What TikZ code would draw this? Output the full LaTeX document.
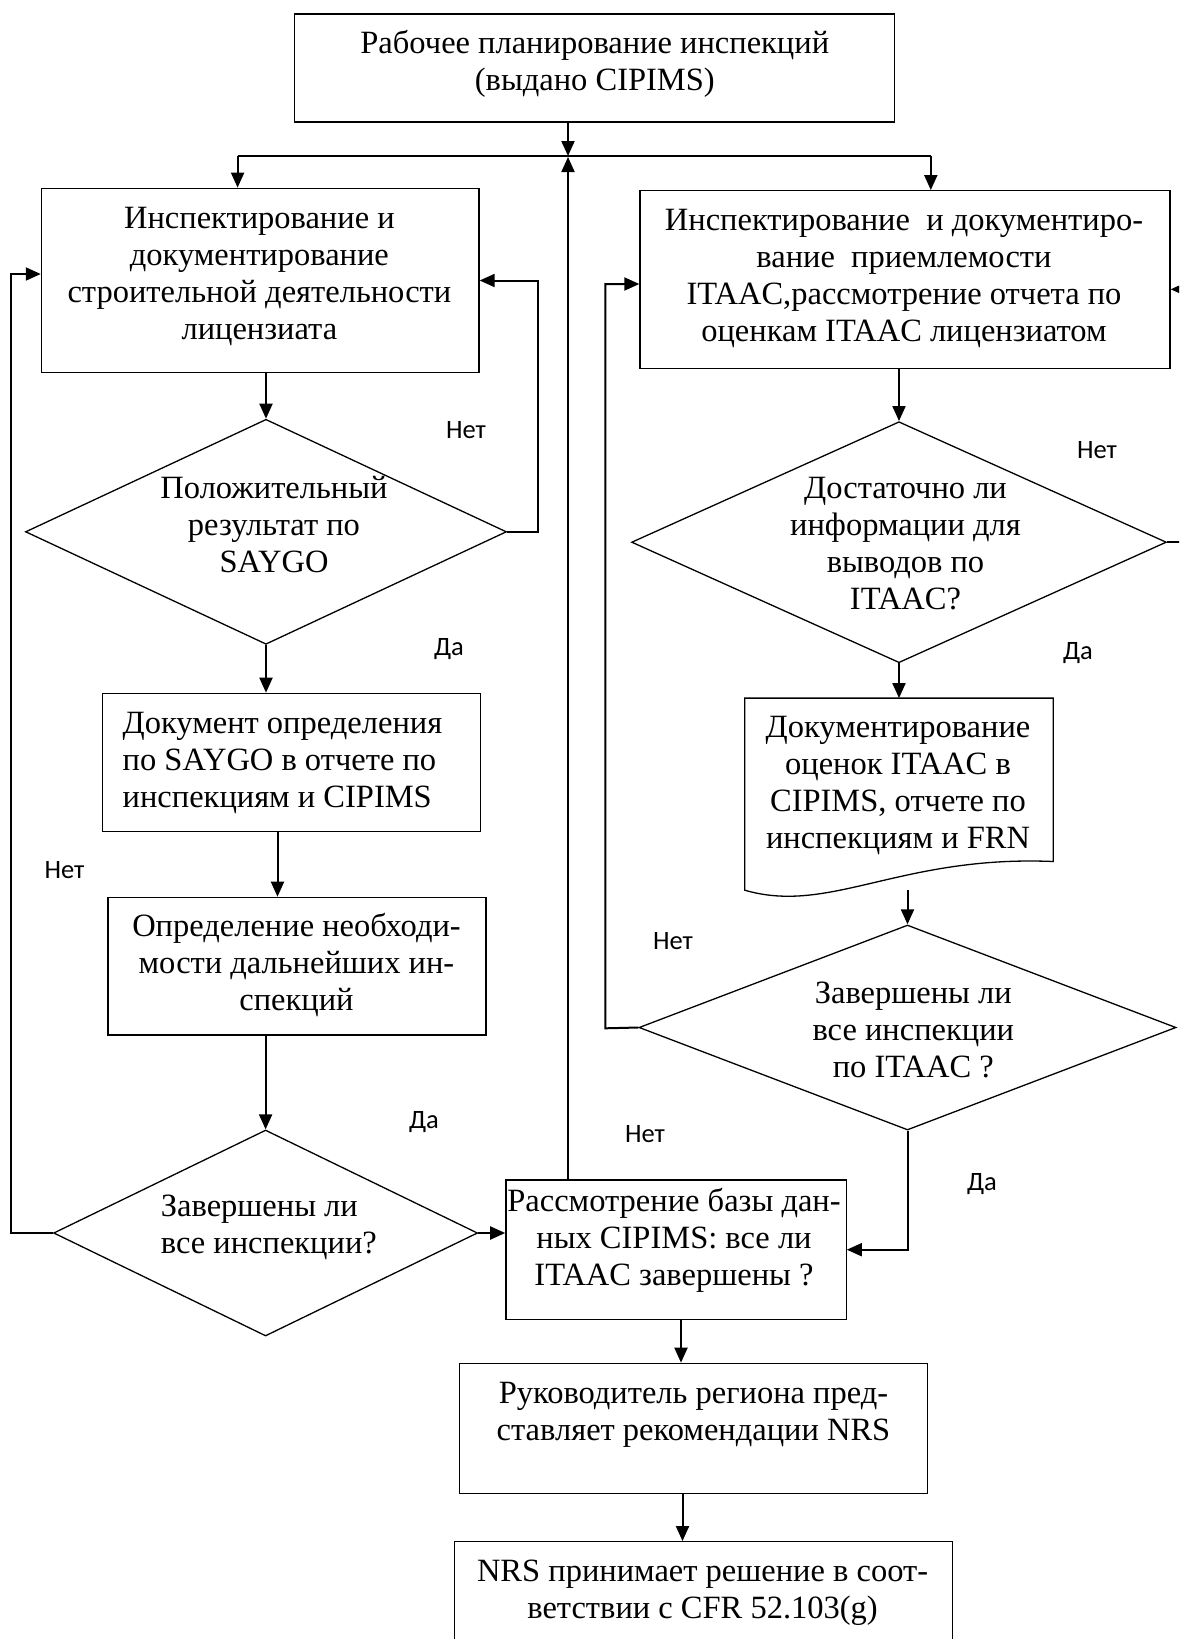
\documentclass[tikz,border=0pt]{standalone}
\usepackage{fontspec}
\setmainfont{Liberation Serif}
\newfontfamily\lblfont{Carlito}
\usetikzlibrary{arrows.meta,shapes.geometric,calc}
\begin{document}
\begin{tikzpicture}[x=1pt,y=-1pt,
  box/.style={draw, line width=1.3pt, rectangle, inner sep=0pt},
  dia/.style={draw, line width=1.3pt, diamond, inner sep=0pt},
  txt/.style={inner sep=0pt, align=center, anchor=north, font=\fontsize{32.5}{37}\selectfont},
  ltxt/.style={txt, align=left, anchor=north west},
  lbl/.style={inner sep=0pt, font=\lblfont\fontsize{26.5}{30}\selectfont},
  conn/.style={line width=2pt},
  arr/.style={conn, -{Triangle[length=15pt,width=13pt]}},
]
\useasboundingbox (0,0) rectangle (1179,1639);
\clip (0,0) rectangle (1179,1639);
\fill[white] (0,0) rectangle (1179,1639);

% boxes
\node[box, minimum width=600pt, minimum height=108pt] (top) at (594.8,68) {};
\node[box, minimum width=437.6pt, minimum height=184.4pt] (l1) at (260.2,280.5) {};
\node[box, minimum width=530pt, minimum height=178pt] (r1) at (905,279.7) {};
\node[dia, minimum width=481pt, minimum height=225pt] (d1) at (266,531.8) {};
\node[box, minimum width=377.7pt, minimum height=138.4pt] (b3) at (291.5,762.5) {};
\node[box, minimum width=378pt, minimum height=137.7pt] (b4) at (297,966.2) {};
\node[dia, minimum width=424pt, minimum height=206pt] (d2) at (265.6,1233) {};
\node[box, minimum width=340.3pt, minimum height=139.3pt] (rev) at (676,1249.7) {};
\node[box, minimum width=468.3pt, minimum height=130pt] (b5) at (693.5,1428.3) {};
\node[box, minimum width=497.6pt, minimum height=158.3pt] (b6) at (703.4,1620.85) {};
\node[dia, minimum width=534.8pt, minimum height=241pt] (d3) at (899,542.2) {};
\node[inner sep=0pt, minimum width=308pt, minimum height=191.7pt] (doc) at (899,794.15) {};
\draw[line width=1.3pt] (doc.north west) -- (doc.north east) -- ($(doc.north east)+(0,163.4)$)
  .. controls (900,855) and (830,915) .. (doc.south west) -- cycle;
\node[dia, minimum width=537pt, minimum height=205pt] (d4) at (907.5,1027.5) {};

% texts
\node[txt] (ttop) at (594.8,27.1) {\strut Рабочее планирование инспекций\\(выдано CIPIMS)};
\node[txt] (tl1) at (259.4,202.1) {\strut Инспектирование и\\документирование\\строительной деятельности\\лицензиата};
\node[txt] (tr1) at (904,204.1) {\strut Инспектирование\ \ и документиро-\\вание\ \ приемлемости\\ITAAC,рассмотрение отчета по\\оценкам ITAAC лицензиатом};
\node[txt] (td1) at (274,472.4) {\strut Положительный\\результат по\\SAYGO};
\node[ltxt] (tb3) at (122.5,707.1) {\strut Документ определения\\по SAYGO в отчете по\\инспекциям и CIPIMS};
\node[txt] (tb4) at (296.5,910.8) {\strut Определение необходи-\\мости дальнейших ин-\\спекций};
\node[ltxt] (td2) at (160.7,1190.8) {\strut Завершены ли\\все инспекции?};
\node[txt] (trev) at (674,1185.8) {\strut Рассмотрение базы дан-\\ных CIPIMS: все ли\\ITAAC завершены ?};
\node[txt] (tb5) at (693.5,1377.4) {\strut Руководитель региона пред-\\ставляет рекомендации NRS};
\node[txt] (tb6) at (702.6,1555.8) {\strut NRS принимает решение в соот-\\ветствии с CFR 52.103(g)};
\node[txt] (td3) at (905.5,472.4) {\strut Достаточно ли\\информации для\\выводов по\\ITAAC?};
\node[txt] (tdoc) at (898,711.4) {\strut Документирование\\оценок ITAAC в\\CIPIMS, отчете по\\инспекциям и FRN};
\node[txt] (td4) at (913.3,977.4) {\strut Завершены ли\\все инспекции\\по ITAAC ?};

% labels
\node[lbl] (n1) at (466,430) {Нет};
\node[lbl] (y1) at (449,649) {Да};
\node[lbl] (n2) at (64.5,870) {Нет};
\node[lbl] (y2) at (424,1122) {Да};
\node[lbl] (n3) at (645,1134) {Нет};
\node[lbl] (n4) at (1097,450) {Нет};
\node[lbl] (y3) at (1078,653) {Да};
\node[lbl] (n5) at (673,941.5) {Нет};
\node[lbl] (y4) at (982,1184) {Да};

% connectors
\coordinate (J) at (568,156);
\coordinate (JL) at (237.6,156);
\coordinate (JR) at (930.8,156);
\draw[arr] (top.south -| J) -- (J);
\draw[conn] (JL) -- (JR);
\draw[arr] (JL) -- (JL |- l1.north);
\draw[arr] (JR) -- (JR |- r1.north);
\draw[arr] (rev.north -| J) -- ([yshift=-1pt]J);

\draw[arr] (l1.south -| d1.north) -- (d1.north);
\coordinate (d1r) at (537.7,531.8);
\draw[arr] (d1.east) -- (d1r) |- (l1.east);
\draw[arr] (d1.south) -- (d1.south |- b3.north);
\draw[arr] ([xshift=-14pt]b3.south) -- ([xshift=-14pt]b3.south |- b4.north);
\draw[arr] (b4.south -| d2.north) -- (d2.north);
\coordinate (lloop) at (10.7,1233);
\draw[arr] (d2.west) -- (lloop) |- ([yshift=6.5pt]l1.west);
\draw[arr] (d2.east) -- (d2.east -| rev.west);
\draw[arr] ([xshift=5pt]rev.south) -- ([xshift=5pt]rev.south |- b5.north);
\draw[arr] ([xshift=-11pt]b5.south) -- ([xshift=-11pt]b5.south |- b6.north);

\draw[arr] (r1.south -| d3.north) -- (d3.north);
\coordinate (d3r) at (1190,542.2);
\draw[arr] (d3.east) -- (d3r) |- ([yshift=-9.6pt]r1.east);
\draw[arr] (d3.south) -- (d3.south |- doc.north);
\draw[arr] (doc.south -| d4.north) -- (d4.north);
\coordinate (rloop) at (605.4,1028.3);
\draw[arr] (d4.west) -- (rloop) |- ([yshift=-4.3pt]r1.west);
\draw[arr] (d4.south) |- (rev.east);
\end{tikzpicture}
\end{document}
